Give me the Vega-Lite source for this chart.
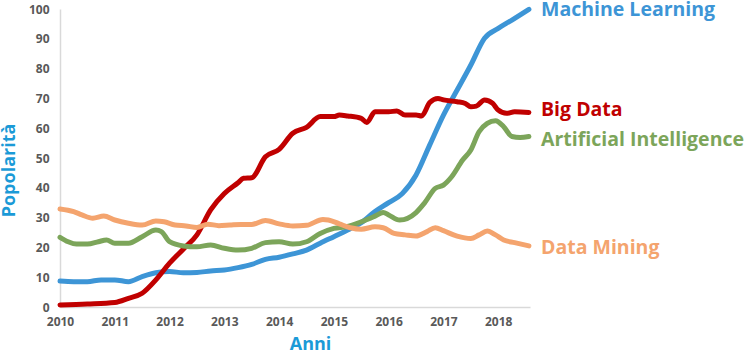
{
  "$schema": "https://vega.github.io/schema/vega-lite/v6.json",
  "width": 470,
  "height": 298,
  "autosize": "none",
  "padding": {"left": 60, "top": 9, "right": 214, "bottom": 44},
  "background": "white",
  "config": {"view": {"stroke": null}, "font": "Open Sans"},
  "datasets": {
    "series": [
      {"s": "Machine Learning", "t": 2010.0, "v": 8.7}, {"s": "Machine Learning", "t": 2010.25, "v": 8.5}, {"s": "Machine Learning", "t": 2010.5, "v": 8.5}, {"s": "Machine Learning", "t": 2010.75, "v": 9.1}, {"s": "Machine Learning", "t": 2011.0, "v": 9.1}, {"s": "Machine Learning", "t": 2011.25, "v": 8.5}, {"s": "Machine Learning", "t": 2011.5, "v": 10.2}, {"s": "Machine Learning", "t": 2011.75, "v": 11.5}, {"s": "Machine Learning", "t": 2012.0, "v": 11.9}, {"s": "Machine Learning", "t": 2012.25, "v": 11.5}, {"s": "Machine Learning", "t": 2012.5, "v": 11.6}, {"s": "Machine Learning", "t": 2012.75, "v": 12.1}, {"s": "Machine Learning", "t": 2013.0, "v": 12.4}, {"s": "Machine Learning", "t": 2013.25, "v": 13.2}, {"s": "Machine Learning", "t": 2013.5, "v": 14.3}, {"s": "Machine Learning", "t": 2013.75, "v": 16.0}, {"s": "Machine Learning", "t": 2014.0, "v": 16.7}, {"s": "Machine Learning", "t": 2014.25, "v": 17.8}, {"s": "Machine Learning", "t": 2014.5, "v": 19.1}, {"s": "Machine Learning", "t": 2014.75, "v": 21.4}, {"s": "Machine Learning", "t": 2015.0, "v": 23.6}, {"s": "Machine Learning", "t": 2015.25, "v": 25.8}, {"s": "Machine Learning", "t": 2015.5, "v": 28.3}, {"s": "Machine Learning", "t": 2015.75, "v": 32.0}, {"s": "Machine Learning", "t": 2016.0, "v": 35.0}, {"s": "Machine Learning", "t": 2016.25, "v": 38.1}, {"s": "Machine Learning", "t": 2016.5, "v": 44.3}, {"s": "Machine Learning", "t": 2016.75, "v": 54.4}, {"s": "Machine Learning", "t": 2017.0, "v": 64.4}, {"s": "Machine Learning", "t": 2017.25, "v": 72.8}, {"s": "Machine Learning", "t": 2017.5, "v": 81.2}, {"s": "Machine Learning", "t": 2017.75, "v": 90.2}, {"s": "Machine Learning", "t": 2018.0, "v": 93.5}, {"s": "Machine Learning", "t": 2018.25, "v": 96.3}, {"s": "Machine Learning", "t": 2018.56, "v": 99.9},

      {"s": "Big Data", "t": 2010.0, "v": 0.7}, {"s": "Big Data", "t": 2010.5, "v": 1.0}, {"s": "Big Data", "t": 2011.0, "v": 1.5}, {"s": "Big Data", "t": 2011.25, "v": 2.9}, {"s": "Big Data", "t": 2011.5, "v": 4.6}, {"s": "Big Data", "t": 2011.75, "v": 9.1}, {"s": "Big Data", "t": 2012.0, "v": 14.7}, {"s": "Big Data", "t": 2012.25, "v": 19.4}, {"s": "Big Data", "t": 2012.5, "v": 24.2}, {"s": "Big Data", "t": 2012.75, "v": 32.6}, {"s": "Big Data", "t": 2013.0, "v": 38.1}, {"s": "Big Data", "t": 2013.25, "v": 41.7}, {"s": "Big Data", "t": 2013.35, "v": 43.2}, {"s": "Big Data", "t": 2013.5, "v": 43.4}, {"s": "Big Data", "t": 2013.75, "v": 50.4}, {"s": "Big Data", "t": 2014.0, "v": 52.9}, {"s": "Big Data", "t": 2014.25, "v": 58.3}, {"s": "Big Data", "t": 2014.5, "v": 60.3}, {"s": "Big Data", "t": 2014.75, "v": 63.9}, {"s": "Big Data", "t": 2015.0, "v": 63.9}, {"s": "Big Data", "t": 2015.1, "v": 64.4}, {"s": "Big Data", "t": 2015.25, "v": 64.1}, {"s": "Big Data", "t": 2015.5, "v": 63.3}, {"s": "Big Data", "t": 2015.6, "v": 61.9}, {"s": "Big Data", "t": 2015.75, "v": 65.5}, {"s": "Big Data", "t": 2016.0, "v": 65.5}, {"s": "Big Data", "t": 2016.15, "v": 65.8}, {"s": "Big Data", "t": 2016.3, "v": 64.4}, {"s": "Big Data", "t": 2016.5, "v": 64.4}, {"s": "Big Data", "t": 2016.6, "v": 64.1}, {"s": "Big Data", "t": 2016.75, "v": 68.6}, {"s": "Big Data", "t": 2016.9, "v": 70.0}, {"s": "Big Data", "t": 2017.0, "v": 69.5}, {"s": "Big Data", "t": 2017.25, "v": 68.9}, {"s": "Big Data", "t": 2017.4, "v": 68.3}, {"s": "Big Data", "t": 2017.5, "v": 67.2}, {"s": "Big Data", "t": 2017.6, "v": 67.4}, {"s": "Big Data", "t": 2017.75, "v": 69.5}, {"s": "Big Data", "t": 2017.9, "v": 68.3}, {"s": "Big Data", "t": 2018.0, "v": 66.1}, {"s": "Big Data", "t": 2018.15, "v": 65.0}, {"s": "Big Data", "t": 2018.3, "v": 65.5}, {"s": "Big Data", "t": 2018.56, "v": 65.3},

      {"s": "Artificial Intelligence", "t": 2010.0, "v": 23.4}, {"s": "Artificial Intelligence", "t": 2010.15, "v": 21.9}, {"s": "Artificial Intelligence", "t": 2010.3, "v": 21.1}, {"s": "Artificial Intelligence", "t": 2010.5, "v": 21.1}, {"s": "Artificial Intelligence", "t": 2010.7, "v": 21.9}, {"s": "Artificial Intelligence", "t": 2010.85, "v": 22.5}, {"s": "Artificial Intelligence", "t": 2011.0, "v": 21.4}, {"s": "Artificial Intelligence", "t": 2011.25, "v": 21.4}, {"s": "Artificial Intelligence", "t": 2011.5, "v": 23.6}, {"s": "Artificial Intelligence", "t": 2011.75, "v": 25.8}, {"s": "Artificial Intelligence", "t": 2011.85, "v": 25.3}, {"s": "Artificial Intelligence", "t": 2012.0, "v": 21.9}, {"s": "Artificial Intelligence", "t": 2012.25, "v": 20.5}, {"s": "Artificial Intelligence", "t": 2012.5, "v": 20.2}, {"s": "Artificial Intelligence", "t": 2012.75, "v": 20.8}, {"s": "Artificial Intelligence", "t": 2013.0, "v": 19.7}, {"s": "Artificial Intelligence", "t": 2013.25, "v": 19.1}, {"s": "Artificial Intelligence", "t": 2013.5, "v": 19.7}, {"s": "Artificial Intelligence", "t": 2013.75, "v": 21.6}, {"s": "Artificial Intelligence", "t": 2014.0, "v": 21.9}, {"s": "Artificial Intelligence", "t": 2014.25, "v": 21.1}, {"s": "Artificial Intelligence", "t": 2014.5, "v": 21.9}, {"s": "Artificial Intelligence", "t": 2014.75, "v": 24.7}, {"s": "Artificial Intelligence", "t": 2015.0, "v": 26.4}, {"s": "Artificial Intelligence", "t": 2015.25, "v": 27.0}, {"s": "Artificial Intelligence", "t": 2015.5, "v": 28.6}, {"s": "Artificial Intelligence", "t": 2015.75, "v": 30.5}, {"s": "Artificial Intelligence", "t": 2015.9, "v": 31.7}, {"s": "Artificial Intelligence", "t": 2016.0, "v": 30.9}, {"s": "Artificial Intelligence", "t": 2016.2, "v": 29.2}, {"s": "Artificial Intelligence", "t": 2016.5, "v": 31.7}, {"s": "Artificial Intelligence", "t": 2016.65, "v": 34.8}, {"s": "Artificial Intelligence", "t": 2016.85, "v": 39.8}, {"s": "Artificial Intelligence", "t": 2017.0, "v": 40.9}, {"s": "Artificial Intelligence", "t": 2017.15, "v": 43.7}, {"s": "Artificial Intelligence", "t": 2017.35, "v": 49.3}, {"s": "Artificial Intelligence", "t": 2017.5, "v": 52.7}, {"s": "Artificial Intelligence", "t": 2017.65, "v": 58.8}, {"s": "Artificial Intelligence", "t": 2017.8, "v": 61.6}, {"s": "Artificial Intelligence", "t": 2017.95, "v": 62.5}, {"s": "Artificial Intelligence", "t": 2018.1, "v": 60.5}, {"s": "Artificial Intelligence", "t": 2018.25, "v": 57.2}, {"s": "Artificial Intelligence", "t": 2018.4, "v": 56.9}, {"s": "Artificial Intelligence", "t": 2018.56, "v": 57.2},

      {"s": "Data Mining", "t": 2010.0, "v": 32.9}, {"s": "Data Mining", "t": 2010.25, "v": 32.0}, {"s": "Data Mining", "t": 2010.4, "v": 30.9}, {"s": "Data Mining", "t": 2010.6, "v": 29.8}, {"s": "Data Mining", "t": 2010.8, "v": 30.5}, {"s": "Data Mining", "t": 2011.0, "v": 29.2}, {"s": "Data Mining", "t": 2011.25, "v": 28.1}, {"s": "Data Mining", "t": 2011.5, "v": 27.5}, {"s": "Data Mining", "t": 2011.75, "v": 28.9}, {"s": "Data Mining", "t": 2011.9, "v": 28.6}, {"s": "Data Mining", "t": 2012.1, "v": 27.5}, {"s": "Data Mining", "t": 2012.3, "v": 27.2}, {"s": "Data Mining", "t": 2012.5, "v": 26.7}, {"s": "Data Mining", "t": 2012.7, "v": 27.8}, {"s": "Data Mining", "t": 2012.9, "v": 27.3}, {"s": "Data Mining", "t": 2013.1, "v": 27.5}, {"s": "Data Mining", "t": 2013.3, "v": 27.7}, {"s": "Data Mining", "t": 2013.5, "v": 27.7}, {"s": "Data Mining", "t": 2013.75, "v": 29.0}, {"s": "Data Mining", "t": 2014.0, "v": 27.9}, {"s": "Data Mining", "t": 2014.25, "v": 27.2}, {"s": "Data Mining", "t": 2014.5, "v": 27.4}, {"s": "Data Mining", "t": 2014.8, "v": 29.4}, {"s": "Data Mining", "t": 2014.9, "v": 29.2}, {"s": "Data Mining", "t": 2015.1, "v": 27.9}, {"s": "Data Mining", "t": 2015.3, "v": 26.6}, {"s": "Data Mining", "t": 2015.5, "v": 26.1}, {"s": "Data Mining", "t": 2015.75, "v": 26.9}, {"s": "Data Mining", "t": 2015.9, "v": 26.6}, {"s": "Data Mining", "t": 2016.1, "v": 24.7}, {"s": "Data Mining", "t": 2016.3, "v": 24.2}, {"s": "Data Mining", "t": 2016.5, "v": 23.8}, {"s": "Data Mining", "t": 2016.7, "v": 25.3}, {"s": "Data Mining", "t": 2016.85, "v": 26.6}, {"s": "Data Mining", "t": 2017.0, "v": 25.6}, {"s": "Data Mining", "t": 2017.25, "v": 23.8}, {"s": "Data Mining", "t": 2017.5, "v": 23.0}, {"s": "Data Mining", "t": 2017.65, "v": 24.2}, {"s": "Data Mining", "t": 2017.8, "v": 25.5}, {"s": "Data Mining", "t": 2017.95, "v": 24.2}, {"s": "Data Mining", "t": 2018.1, "v": 22.5}, {"s": "Data Mining", "t": 2018.3, "v": 21.6}, {"s": "Data Mining", "t": 2018.56, "v": 20.5}
    ],
    "labels": [
      {"s": "Machine Learning", "t": 2018.58, "v": 99.8},
      {"s": "Big Data", "t": 2018.58, "v": 66.1},
      {"s": "Artificial Intelligence", "t": 2018.58, "v": 56.0},
      {"s": "Data Mining", "t": 2018.58, "v": 19.8}
    ]
  },
  "encoding": {
    "x": {
      "field": "t", "type": "quantitative",
      "scale": {"domain": [2010, 2018.58], "nice": false, "zero": false},
      "axis": {
        "values": [2010, 2011, 2012, 2013, 2014, 2015, 2016, 2017, 2018],
        "format": "d", "grid": false, "ticks": false,
        "labelFlush": false, "labelOverlap": false, "labelBound": false,
        "domainColor": "#d9d9d9", "domainWidth": 1.5,
        "labelFont": "Open Sans", "labelFontWeight": "bold", "labelFontSize": 12, "labelColor": "#595959",
        "labelPadding": 9,
        "title": "Anni", "titleFont": "Open Sans", "titleFontSize": 18, "titleFontWeight": "bold", "titleColor": "#1b9ad7",
        "titleX": 250, "titleY": 37, "titleBaseline": "middle", "titleAlign": "center"
      }
    },
    "y": {
      "field": "v", "type": "quantitative",
      "scale": {"domain": [0, 100], "nice": false, "zero": true},
      "axis": {
        "values": [0, 10, 20, 30, 40, 50, 60, 70, 80, 90, 100],
        "grid": false, "ticks": false,
        "labelFlush": false, "labelOverlap": false, "labelBound": false,
        "domainColor": "#d9d9d9", "domainWidth": 1.5,
        "labelFont": "Open Sans", "labelFontWeight": "bold", "labelFontSize": 12, "labelColor": "#595959",
        "labelPadding": 11,
        "title": "Popolarità", "titleFont": "Open Sans", "titleFontSize": 18, "titleFontWeight": "bold", "titleColor": "#1b9ad7",
        "titleAngle": -90, "titleX": -51, "titleY": 161, "titleBaseline": "middle", "titleAlign": "center"
      }
    },
    "color": {
      "field": "s", "type": "nominal",
      "scale": {"domain": ["Data Mining", "Artificial Intelligence", "Big Data", "Machine Learning"], "range": ["#f4a46e", "#7ca55a", "#c00000", "#3d95d6"]},
      "legend": null
    }
  },
  "layer": [
    {
      "data": {"name": "series"},
      "mark": {"type": "line", "strokeWidth": 5, "strokeCap": "round", "strokeJoin": "round", "interpolate": "monotone", "clip": false}
    },
    {
      "data": {"name": "labels"},
      "mark": {"type": "text", "align": "left", "baseline": "middle", "dx": 11, "font": "Open Sans", "fontWeight": "bold", "fontSize": 19.5, "clip": false},
      "encoding": {"text": {"field": "s"}}
    }
  ]
}
